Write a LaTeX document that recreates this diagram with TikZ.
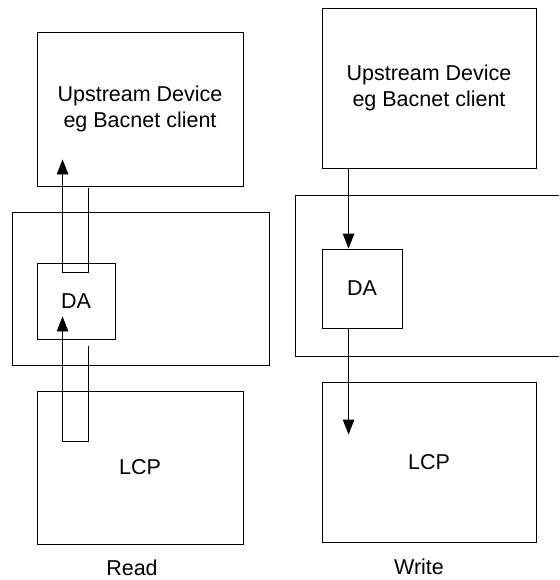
\documentclass[tikz,border=0pt]{standalone}
\usepackage{fontspec}
\setmainfont{Liberation Sans}
\usetikzlibrary{arrows.meta,calc}

\begin{document}
\begin{tikzpicture}[x=1pt, y=-1pt,
  every node/.style={font=\fontsize{21.5}{26.5}\selectfont},
  box/.style={draw, line width=0.9pt, inner sep=0pt, align=center},
  flow/.style={line width=0.9pt, -{Triangle[length=15pt, width=11.5pt]}},
  caption/.style={anchor=base}]
\clip (0,0) rectangle (559,580);
% Read
\node[box, minimum width=257pt, minimum height=153pt] (midL) at (140.5,288.5) {};
\node[box, minimum width=206pt, minimum height=154pt] (upL) at (140,109)
  {Upstream Device\\eg Bacnet client};
\node[box, minimum width=78pt, minimum height=76pt] (daL) at (76,301) {DA};
\node[box, minimum width=206pt, minimum height=153pt] (lcpL) at (140,467.5) {LCP};
\node[caption] (read) at (132,575) {Read};
\coordinate (pipeA) at ($(daL.west)+(26,0)$);
\coordinate (pipeB) at ($(daL.west)+(52,0)$);
\coordinate (topIn) at ($(upL.south)+(0,-27)$);
\coordinate (daIn) at ($(daL.south)+(0,-23)$);
\draw[flow] ($(upL.south -| pipeB)+(0,2)$) |- ($(daL.north -| pipeA)+(0,10)$) -- (topIn -| pipeA);
\draw[flow] ($(daL.south -| pipeB)+(0,7)$) |- ($(lcpL.north -| pipeA)+(0,51)$) -- (daIn -| pipeA);
% Write
\node[box, minimum width=280pt, minimum height=161pt] (midR) at (435,275.5) {};
\node[box, minimum width=214pt, minimum height=160pt] (upR) at (429,88)
  {Upstream Device\\eg Bacnet client};
\node[box, minimum width=80pt, minimum height=79pt] (daR) at (362,288.5) {DA};
\node[box, minimum width=214pt, minimum height=160pt] (lcpR) at (429,462) {LCP};
\node[caption] (write) at (419,574) {Write};
\coordinate (wx) at ($(daR.west)+(27,0)$);
\coordinate (lcpIn) at ($(lcpR.north)+(0,53)$);
\draw[flow] (upR.south -| wx) -- (daR.north -| wx);
\draw[flow] (daR.south -| wx) -- (lcpIn -| wx);
\end{tikzpicture}
\end{document}
